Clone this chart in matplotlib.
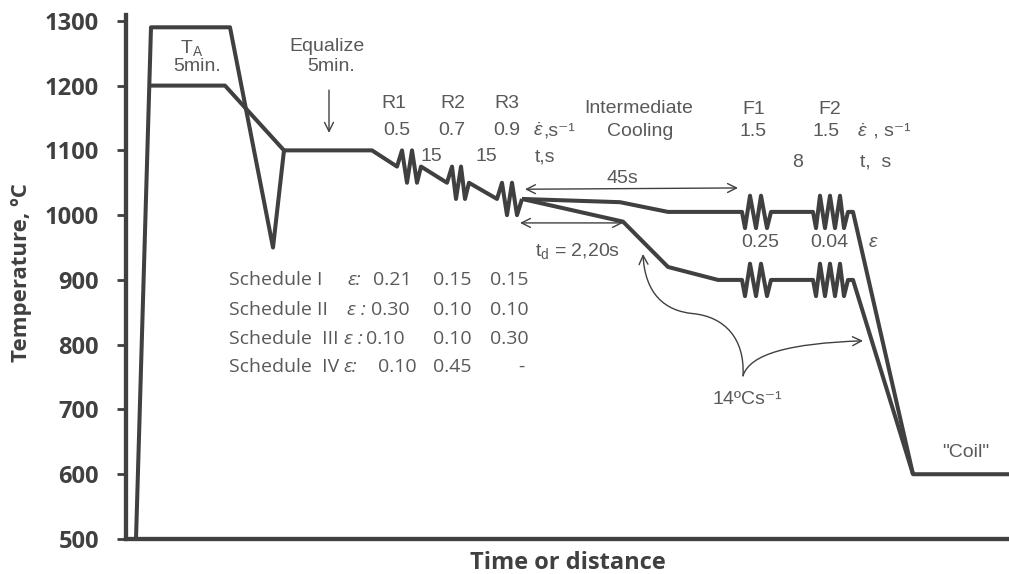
import matplotlib
matplotlib.use('Agg')
import matplotlib.pyplot as plt
from matplotlib.path import Path
from matplotlib.patches import FancyArrowPatch

plt.rcParams['mathtext.fontset'] = 'custom'
plt.rcParams['mathtext.rm'] = 'Liberation Sans'
plt.rcParams['mathtext.it'] = 'Liberation Sans:italic'
plt.rcParams['mathtext.bf'] = 'Liberation Sans:bold'

# ---------------- data (time in arbitrary units, temperature in degC) ----------------
reheat_a_t = [10, 25, 104, 147, 158]
reheat_a_T = [500, 1290, 1290, 950, 1100]
reheat_b_t = [23, 99, 158]
reheat_b_T = [1200, 1200, 1100]

rough_t = [158, 246, 271, 276, 281, 286, 291, 295, 321, 326, 330, 335, 339, 343,
           371, 376, 381, 386, 391, 396]
rough_T = [1100, 1100, 1075, 1100, 1050, 1100, 1050, 1075, 1050, 1075, 1025, 1075, 1025, 1050,
           1025, 1050, 1000, 1050, 1000, 1025]

finish_hi_t = [396, 494, 542, 616, 619, 624, 630, 635, 641, 645, 687, 690, 694, 699, 704,
               709, 714, 718, 722, 727, 787, 883]
finish_hi_T = [1025, 1020, 1005, 1005, 980, 1030, 980, 1030, 980, 1005, 1005, 980, 1030, 980, 1030,
               980, 1030, 980, 1005, 1005, 600, 600]

finish_lo_t = [396, 497, 542, 592, 616, 619, 624, 630, 635, 641, 645, 687, 690, 694, 699, 704,
               709, 714, 718, 722, 727, 787]
finish_lo_T = [1025, 990, 920, 900, 900, 875, 925, 875, 925, 875, 900, 900, 875, 925, 875, 925,
               875, 925, 875, 900, 900, 600]

yticks = [500, 600, 700, 800, 900, 1000, 1100, 1200, 1300]

rough_stands = ['R1', 'R2', 'R3']
rough_rates = ['0.5', '0.7', '0.9']
rough_delays = ['15', '15']
finish_stands = ['F1', 'F2']
finish_rates = ['1.5', '1.5']
finish_delay = '8'
finish_strains = ['0.25', '0.04']

schedule_names = ['Schedule I', 'Schedule II', 'Schedule  III', 'Schedule  IV']
schedule_eps = ['ε:', 'ε :', 'ε :', 'ε:']
schedule_strains = [['0.21', '0.15', '0.15'],
                    ['0.30', '0.10', '0.10'],
                    ['0.10', '0.10', '0.30'],
                    ['0.10', '0.45', '-']]

# ---------------- figure ----------------
W, H = 1009, 574
fig = plt.figure(figsize=(W / 100, H / 100), dpi=100)
ax = fig.add_axes([126 / W, (H - 539) / H, 883 / W, (539 - 15) / H])
ax.set_xlim(0, 883)
ax.set_ylim(500, 1309)

LINE = '#404040'
TXT = '#595959'
lw = 2.9
for t, T in [(reheat_a_t, reheat_a_T), (reheat_b_t, reheat_b_T), (rough_t, rough_T),
             (finish_hi_t, finish_hi_T), (finish_lo_t, finish_lo_T)]:
    ax.plot(t, T, color=LINE, lw=lw, solid_joinstyle='round', solid_capstyle='butt')

for s in ['top', 'right']:
    ax.spines[s].set_visible(False)
for s in ['left', 'bottom']:
    ax.spines[s].set_linewidth(3.1)
    ax.spines[s].set_color(LINE)
ax.set_xticks([])
ax.set_yticks(yticks)
ax.tick_params(axis='y', direction='out', length=6.5, width=2, color=LINE, pad=13)
for lab in ax.get_yticklabels():
    lab.set_fontfamily('Open Sans')
    lab.set_fontweight('bold')
    lab.set_fontsize(17)
    lab.set_color(LINE)

ax.set_xlabel('Time or distance', fontfamily='Open Sans', fontweight='bold', fontsize=17,
              color=LINE, labelpad=8.5)
ax.set_ylabel('Temperature, ºC', fontfamily='Open Sans', fontweight='bold', fontsize=16,
              color=LINE, va='center')
ax.yaxis.set_label_coords(-0.118, 0.508)

fs = 14
lab_kw = dict(fontfamily=['Liberation Sans', 'DejaVu Sans'], fontsize=fs, color=TXT)


def rate_label(x, y, tail):
    """Dotted epsilon (mathtext) followed by a plain-text tail on the same baseline."""
    e = ax.text(x, y, '$\\dot{\\varepsilon}$', ha='left', va='baseline', **lab_kw)
    ax.annotate(tail, xy=(1, y), xycoords=(e, 'data'), ha='left', va='baseline', **lab_kw)


# reheating / equalize
ax.text(54, 1258, 'T$_{\\mathrm{A}}$', ha='left', va='center', **lab_kw)
ax.text(71, 1229, '5min.', ha='center', va='center', **lab_kw)
ax.text(201, 1260, 'Equalize', ha='center', va='center', **lab_kw)
ax.text(205, 1229, '5min.', ha='center', va='center', **lab_kw)
ax.annotate('', xy=(203, 1127), xytext=(203, 1193),
            arrowprops=dict(arrowstyle='->', lw=1, color=LINE, mutation_scale=16,
                            shrinkA=0, shrinkB=0))

# roughing stands
for x, s in zip([268, 327, 381], rough_stands):
    ax.text(x, 1172, s, ha='center', va='center', **lab_kw)
for x, s in zip([271, 326, 381], rough_rates):
    ax.text(x, 1130, s, ha='center', va='center', **lab_kw)
rate_label(407, 1122, ',s⁻¹')
for x, s in zip([305, 360], rough_delays):
    ax.text(x, 1090, s, ha='center', va='center', **lab_kw)
ax.text(409, 1090, 't,s', ha='left', va='center', **lab_kw)

# intermediate cooling
ax.text(513, 1164, 'Intermediate', ha='center', va='center', **lab_kw)
ax.text(514, 1129, 'Cooling', ha='center', va='center', **lab_kw)
ax.text(496, 1056, '45s', ha='center', va='center', **lab_kw)
ax.annotate('', xy=(612, 1042), xytext=(399, 1040),
            arrowprops=dict(arrowstyle='<->', lw=1, color=LINE, mutation_scale=16,
                            shrinkA=0, shrinkB=0))
ax.annotate('', xy=(497, 988), xytext=(394, 988),
            arrowprops=dict(arrowstyle='<->', lw=1, color=LINE, mutation_scale=16,
                            shrinkA=0, shrinkB=0))
ax.text(409, 944, 't$_{\\mathrm{d}}$ = 2,20s', ha='left', va='center', **lab_kw)

# finishing stands
for x, s in zip([628, 704], finish_stands):
    ax.text(x, 1163, s, ha='center', va='center', **lab_kw)
for x, s in zip([627, 700], finish_rates):
    ax.text(x, 1129, s, ha='center', va='center', **lab_kw)
rate_label(731, 1121, ' , s⁻¹')
ax.text(672, 1082, finish_delay, ha='center', va='center', **lab_kw)
ax.text(734, 1082, 't,  s', ha='left', va='center', **lab_kw)
for x, s in zip([634, 703], finish_strains):
    ax.text(x, 957, s, ha='center', va='center', **lab_kw)
ax.text(747, 957, 'ε', ha='center', va='center', style='italic', **lab_kw)

# schedules table
sch_kw = dict(fontfamily='Open Sans', fontsize=14, color=TXT, va='center')
row_T = [900, 854, 809, 766]
eps_x = [221, 221, 218, 217]
col_x = [[247, 307, 364], [245, 307, 364], [240, 307, 364], [252, 307, 392]]
for i in range(4):
    ax.text(103, row_T[i], schedule_names[i], ha='left', **sch_kw)
    ax.text(eps_x[i], row_T[i], schedule_eps[i], ha='left', style='italic', **sch_kw)
    for x, s in zip(col_x[i], schedule_strains[i]):
        ax.text(x, row_T[i], s, ha='left', **sch_kw)

# cooling-rate brace arrows
left_curve = Path([(617, 752), (619, 809), (599, 843), (567, 848),
                   (539, 852), (519, 878), (517, 940)],
                  [Path.MOVETO, Path.CURVE4, Path.CURVE4, Path.CURVE4,
                   Path.CURVE4, Path.CURVE4, Path.CURVE4])
right_curve = Path([(617, 752), (624, 786), (664, 802), (737, 806)],
                   [Path.MOVETO, Path.CURVE4, Path.CURVE4, Path.CURVE4])
for p in [left_curve, right_curve]:
    ax.add_patch(FancyArrowPatch(path=p, arrowstyle='->', lw=1, color=LINE,
                                 mutation_scale=16, shrinkA=0, shrinkB=0))
ax.text(587, 715, '14ºCs⁻¹', ha='left', va='center', **lab_kw)
ax.text(840, 634, '"Coil"', ha='center', va='center', **lab_kw)

fig.savefig('out.png', dpi=100)
